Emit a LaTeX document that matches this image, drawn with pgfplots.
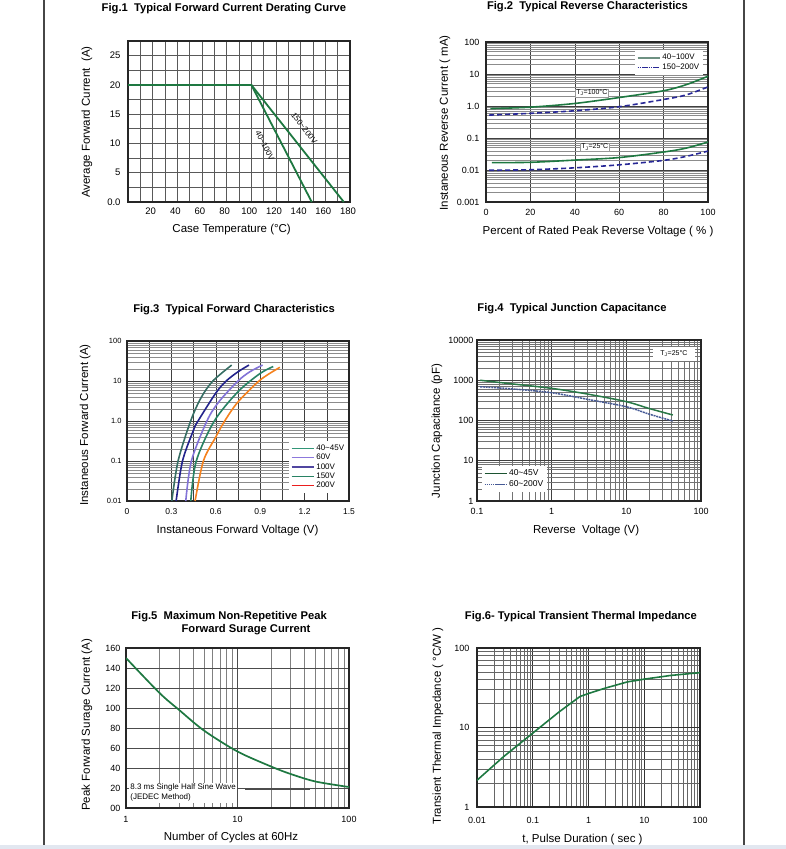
\documentclass[border=0pt]{standalone}
\usepackage{pgfplots}
\pgfplotsset{compat=1.18}
\usepackage{fontspec}
\setmainfont{Liberation Sans}

\definecolor{dgreen}{RGB}{30,120,65}
\definecolor{dblue}{RGB}{40,40,150}
\definecolor{leggreen}{RGB}{110,145,130}
\definecolor{cA}{RGB}{55,110,100}
\definecolor{cB}{RGB}{35,35,140}
\definecolor{cC}{RGB}{130,115,215}
\definecolor{cD}{RGB}{40,130,100}
\definecolor{cE}{RGB}{245,130,30}
\definecolor{lA}{RGB}{50,150,120}
\definecolor{lB}{RGB}{140,120,220}
\definecolor{lC}{RGB}{80,70,160}
\definecolor{lD}{RGB}{40,130,100}
\definecolor{lE}{RGB}{235,30,30}
\definecolor{capgreen}{RGB}{40,120,70}
\definecolor{capblue}{RGB}{70,90,150}
\definecolor{pageline}{RGB}{70,70,70}
\definecolor{strip}{RGB}{226,231,240}

\pgfplotsset{
  every axis title shift=0pt,
  sheet/.style={
    scale only axis, anchor=south west,
    axis line style={line width=1.2pt, black!85},
    tick style={draw=none},
    /pgf/number format/assume math mode=true,
    ticklabel style={font=\fontsize{9}{11}\selectfont},
    label style={font=\fontsize{11.5}{13}\selectfont},
    title style={font=\bfseries\fontsize{11.2}{13}\selectfont, anchor=center},
    xlabel style={anchor=center},
    ylabel style={anchor=center},
    major grid style={black!75, line width=0.6pt},
    minor grid style={black!45, line width=0.4pt},
    legend cell align=left,
    legend image code/.code={\draw[#1] (0pt,0pt) -- (22pt,0pt);},
  },
}

\begin{document}
\begin{tikzpicture}[x=1pt,y=1pt]
\path[use as bounding box] (0,0) rectangle (786,-849);
\fill[strip] (0,-845) rectangle (786,-849);
\draw[pageline, line width=1.5pt] (44,0) -- (44,-845);
\draw[pageline, line width=1.5pt] (744,0) -- (744,-845);

% Fig.1
\begin{axis}[sheet, at={(128pt,-202pt)}, width=222pt, height=161pt,
  xmin=0, xmax=180, ymin=0, ymax=27.5,
  xtick={20,40,60,80,100,120,140,160,180},
  xticklabels={20,40,60,80,100,120,140,160,180},
  ytick={0,5,10,15,20,25}, yticklabels={0.0,5,10,15,20,25},
  minor xtick={10,30,50,70,90,110,130,150,170},
  minor ytick={2.5,7.5,12.5,17.5,22.5},
  grid=both, major grid style={black!65, line width=0.7pt},
  minor grid style={black!65, line width=0.7pt},
  ticklabel style={font=\fontsize{9.5}{11}\selectfont},
  xticklabel style={yshift=-2pt, xshift=-2pt},
  yticklabel style={xshift=-4pt},
  title={Fig.1\ \ Typical Forward Current Derating Curve},
  title style={at={(axis description cs:0.432,1.199)}},
  xlabel={Case Temperature (°C)},
  xlabel style={at={(axis description cs:0.467,-0.174)}},
  ylabel={Average Forward Current\ \ (A)},
  ylabel style={at={(axis description cs:-0.185,0.497)}},
]
\addplot[dgreen, line width=1.8pt] coordinates {(0,20) (100,20) (149,0)};
\addplot[dgreen, line width=1.8pt] coordinates {(100,20) (175,0)};
\node[rotate=-52, font=\fontsize{8}{9}\selectfont] at (axis cs:143,12.6) {150\textasciitilde200V};
\node[rotate=-63, font=\fontsize{8}{9}\selectfont] at (axis cs:111,9.7) {40\textasciitilde100V};
\end{axis}

% Fig.2
\begin{axis}[sheet, at={(486pt,-202pt)}, width=222pt, height=160pt,
  xmin=0, xmax=100, ymode=log, ymin=0.001, ymax=100,
  xtick={0,20,40,60,80,100}, xticklabels={0,20,40,60,80,100},
  ytick={0.001,0.01,0.1,1,10,100}, yticklabels={0.001,0.01,0.1,1.0,10,100},
  minor ytick={0.002,0.003,0.004,0.005,0.006,0.007,0.008,0.009,
    0.02,0.03,0.04,0.05,0.06,0.07,0.08,0.09,
    0.2,0.3,0.4,0.5,0.6,0.7,0.8,0.9,
    2,3,4,5,6,7,8,9,20,30,40,50,60,70,80,90},
  xmajorgrids, ymajorgrids, yminorgrids,
  xticklabel style={yshift=-4pt},
  yticklabel style={xshift=-3pt},
  title={Fig.2\ \ Typical Reverse Characteristics},
  title style={at={(axis description cs:0.457,1.219)}},
  xlabel={Percent of Rated Peak Reverse Voltage ( \% )},
  xlabel style={at={(axis description cs:0.505,-0.1875)}},
  ylabel={Instaneous Reverse Current ( mA)},
  ylabel style={at={(axis description cs:-0.185,0.494)}},
  legend style={at={(axis description cs:0.979,0.95)}, anchor=north east,
    draw=none, fill=white, font=\fontsize{8}{9}\selectfont,
    row sep=-1pt, inner sep=2pt},
]
\addplot[dgreen, line width=1.6pt, smooth, forget plot] coordinates {
  (2,0.83) (20,0.92) (40,1.2) (60,1.84) (80,3.0) (90,4.6) (100,8.5)};
\addplot[dblue, line width=1.6pt, dash pattern=on 5pt off 3pt, smooth, forget plot] coordinates {
  (1.4,0.52) (20,0.59) (40,0.71) (60,0.95) (80,1.6) (90,2.2) (100,3.95)};
\addplot[dgreen, line width=1.6pt, smooth, forget plot] coordinates {
  (2.6,0.017) (20,0.0174) (40,0.0204) (60,0.0245) (80,0.0365) (90,0.048) (100,0.075)};
\addplot[dblue, line width=1.6pt, dash pattern=on 5pt off 3pt, smooth, forget plot] coordinates {
  (1.4,0.0098) (20,0.0102) (40,0.0117) (60,0.0145) (80,0.02) (90,0.0265) (100,0.039)};
\addlegendimage{leggreen, line width=1.6pt}
\addlegendentry{40\textasciitilde100V}
\addlegendimage{dblue, line width=0.8pt, dash pattern=on 1.5pt off 0.7pt}
\addlegendentry{150\textasciitilde200V}
\node[fill=white, draw=black!40, line width=0.3pt, inner sep=1pt, font=\fontsize{7}{8}\selectfont] at (axis cs:47.7,2.6) {T\textsubscript{J}=100°C};
\node[fill=white, draw=black!40, line width=0.3pt, inner sep=1pt, font=\fontsize{7}{8}\selectfont] at (axis cs:49,0.052) {T\textsubscript{J}=25°C};
\end{axis}

% Fig.3
\begin{axis}[sheet, at={(127pt,-501pt)}, width=222pt, height=160pt,
  xmin=0, xmax=1.5, ymode=log, ymin=0.01, ymax=100,
  xtick={0,0.3,0.6,0.9,1.2,1.5}, xticklabels={0,0.3,0.6,0.9,1.2,1.5},
  minor xtick={0.15,0.45,0.75,1.05,1.35},
  ytick={0.01,0.1,1,10,100}, yticklabels={0.01,0.1,1.0,10,100},
  minor ytick={0.02,0.03,0.04,0.05,0.06,0.07,0.08,0.09,
    0.2,0.3,0.4,0.5,0.6,0.7,0.8,0.9,
    2,3,4,5,6,7,8,9,20,30,40,50,60,70,80,90},
  grid=both, minor x grid style={black!75, line width=0.6pt},
  xticklabel style={font=\fontsize{8.5}{10}\selectfont, yshift=-4pt},
  yticklabel style={font=\fontsize{7.5}{9}\selectfont, xshift=-2pt},
  title={Fig.3\ \ Typical Forward Characteristics},
  title style={at={(axis description cs:0.482,1.194)}},
  xlabel={Instaneous Forward Voltage (V)},
  xlabel style={at={(axis description cs:0.498,-0.186)}},
  ylabel={Instaneous Forward Current (A)},
  ylabel style={at={(axis description cs:-0.189,0.475)}},
  legend style={at={(axis description cs:0.997,0.048)}, anchor=south east,
    draw=none, fill=white, font=\fontsize{8}{8.5}\selectfont,
    row sep=-1.8pt, inner sep=2pt},
]
\addplot[cA, line width=1.6pt, smooth, forget plot] coordinates {
  (0.303,0.01) (0.345,0.1) (0.43,1) (0.5,3.8) (0.58,10) (0.707,25)};
\addplot[cB, line width=1.6pt, smooth, forget plot] coordinates {
  (0.332,0.01) (0.375,0.1) (0.45,0.6) (0.48,1) (0.6,5) (0.67,10) (0.75,17) (0.824,25)};
\addplot[cC, line width=1.6pt, smooth, forget plot] coordinates {
  (0.397,0.01) (0.435,0.1) (0.54,1) (0.62,3) (0.75,10) (0.83,17) (0.916,25)};
\addplot[cD, line width=1.6pt, smooth, forget plot] coordinates {
  (0.431,0.01) (0.468,0.1) (0.59,1) (0.75,5.4) (0.9,15.5) (0.988,23)};
\addplot[cE, line width=1.6pt, smooth, forget plot] coordinates {
  (0.46,0.01) (0.516,0.1) (0.6,0.4) (0.66,1) (0.75,3) (0.9,10.6) (1.033,22)};
\addlegendimage{lA, line width=1.2pt}\addlegendentry{40\textasciitilde45V}
\addlegendimage{lB, line width=1.2pt}\addlegendentry{60V}
\addlegendimage{lC, line width=1.2pt}\addlegendentry{100V}
\addlegendimage{lD, line width=1.2pt}\addlegendentry{150V}
\addlegendimage{lE, line width=1.2pt}\addlegendentry{200V}
\end{axis}

% Fig.4
\begin{axis}[sheet, at={(477pt,-501pt)}, width=224pt, height=161pt,
  xmode=log, ymode=log, xmin=0.1, xmax=100, ymin=1, ymax=10000,
  xtick={0.1,1,10,100}, xticklabels={0.1,1,10,100},
  ytick={1,10,100,1000,10000}, yticklabels={1,10,100,1000,10000},
  minor xtick={0.2,0.3,0.4,0.5,0.6,0.7,0.8,0.9,2,3,4,5,6,7,8,9,20,30,40,50,60,70,80,90},
  minor ytick={2,3,4,5,6,7,8,9,20,30,40,50,60,70,80,90,
    200,300,400,500,600,700,800,900,2000,3000,4000,5000,6000,7000,8000,9000},
  grid=both, minor grid style={black!55, line width=0.45pt},
  xticklabel style={yshift=-4pt},
  title={Fig.4\ \ Typical Junction Capacitance},
  title style={at={(axis description cs:0.424,1.193)}},
  xlabel={Reverse\ \ Voltage (V)},
  xlabel style={at={(axis description cs:0.487,-0.184)}},
  ylabel={Junction Capacitance (pF)},
  ylabel style={at={(axis description cs:-0.179,0.435)}},
  legend style={at={(axis description cs:0.022,0.056)}, anchor=south west,
    draw=none, fill=white, font=\fontsize{8.5}{9}\selectfont,
    row sep=-1pt, inner sep=2pt},
]
\addplot[capgreen, line width=1.5pt, smooth, forget plot] coordinates {
  (0.11,1000) (0.3,810) (1,630) (3,455) (10,294) (20,200) (42,137)};
\addplot[capblue, line width=1.5pt, dash pattern=on 2pt off 0.8pt, smooth, forget plot] coordinates {
  (0.11,690) (0.3,610) (1,490) (3,337) (10,220) (20,145) (42,97)};
\addlegendimage{capgreen!70!black, line width=0.9pt}\addlegendentry{40\textasciitilde45V}
\addlegendimage{capblue, line width=0.9pt, dash pattern=on 1.5pt off 0.6pt}\addlegendentry{60\textasciitilde200V}
\node[fill=white, inner sep=2pt, minimum width=42pt, minimum height=14pt, font=\fontsize{7}{8}\selectfont]
  at (axis description cs:0.879,0.913) {T\textsubscript{J}=25°C};
\end{axis}

% Fig.5
\begin{axis}[sheet, at={(126pt,-808pt)}, width=223pt, height=160pt,
  xmode=log, xmin=1, xmax=100, ymin=0, ymax=160,
  xtick={1,10,100}, xticklabels={1,10,100},
  minor xtick={2,3,4,5,6,7,8,9,20,30,40,50,60,70,80,90},
  ytick={0,20,40,60,80,100,120,140,160},
  yticklabels={00,20,40,60,80,100,120,140,160},
  grid=both, major grid style={black!70, line width=0.7pt},
  minor grid style={black!50, line width=0.6pt},
  xticklabel style={yshift=-5pt},
  yticklabel style={xshift=-2pt},
  title={Fig.5\ \ Maximum Non-Repetitive Peak\\\hspace*{34pt}Forward Surage Current},
  title style={at={(axis description cs:0.462,1.153)}, align=center},
  xlabel={Number of Cycles at 60Hz},
  xlabel style={at={(axis description cs:0.471,-0.1875)}},
  ylabel={Peak Forward Surage Current (A)},
  ylabel style={at={(axis description cs:-0.175,0.52)}},
]
\addplot[dgreen, line width=1.7pt, smooth] coordinates {
  (1,150) (2,115) (3,98) (5,77.5) (10,56.5) (20,41.5) (30,34) (50,26.5) (100,21)};
\node[anchor=north west, fill=white, align=left, inner sep=1.5pt,
  font=\fontsize{8}{10}\selectfont]
  at (axis description cs:0.012,0.16) {8.3 ms Single Half Sine Wave\\(JEDEC Method)};
\draw[black!70, line width=0.6pt] (axis description cs:0.534,0.119) -- (axis description cs:0.825,0.119);
\end{axis}

% Fig.6
\begin{axis}[sheet, at={(477pt,-807pt)}, width=223pt, height=159pt,
  xmode=log, ymode=log, xmin=0.01, xmax=100, ymin=1, ymax=100,
  xtick={0.01,0.1,1,10,100}, xticklabels={0.01,0.1,1,10,100},
  ytick={1,10,100}, yticklabels={1,10,100},
  minor xtick={0.02,0.03,0.04,0.05,0.06,0.07,0.08,0.09,
    0.2,0.3,0.4,0.5,0.6,0.7,0.8,0.9,2,3,4,5,6,7,8,9,20,30,40,50,60,70,80,90},
  minor ytick={2,3,4,5,6,7,8,9,20,30,40,50,60,70,80,90},
  grid=both, major grid style={black!80, line width=0.7pt},
  minor grid style={black!60, line width=0.5pt},
  xticklabel style={yshift=-7pt},
  yticklabel style={xshift=-4pt},
  title={Fig.6- Typical Transient Thermal Impedance},
  title style={at={(axis description cs:0.466,1.195)}},
  xlabel={t, Pulse Duration ( sec )},
  xlabel style={at={(axis description cs:0.473,-0.2075)}},
  ylabel={Transient Thermal Impedance ( °C/W )},
  ylabel style={at={(axis description cs:-0.175,0.51)}},
]
\addplot[dgreen, line width=1.6pt] coordinates {
  (0.01,2.17) (0.03,4.3) (0.1,8.5) (0.3,15.8) (0.7,24.5) (1,26.8) (2,31.3) (5,37.5) (10,40.6) (30,45.2) (100,49)};
\end{axis}
\end{tikzpicture}
\end{document}
